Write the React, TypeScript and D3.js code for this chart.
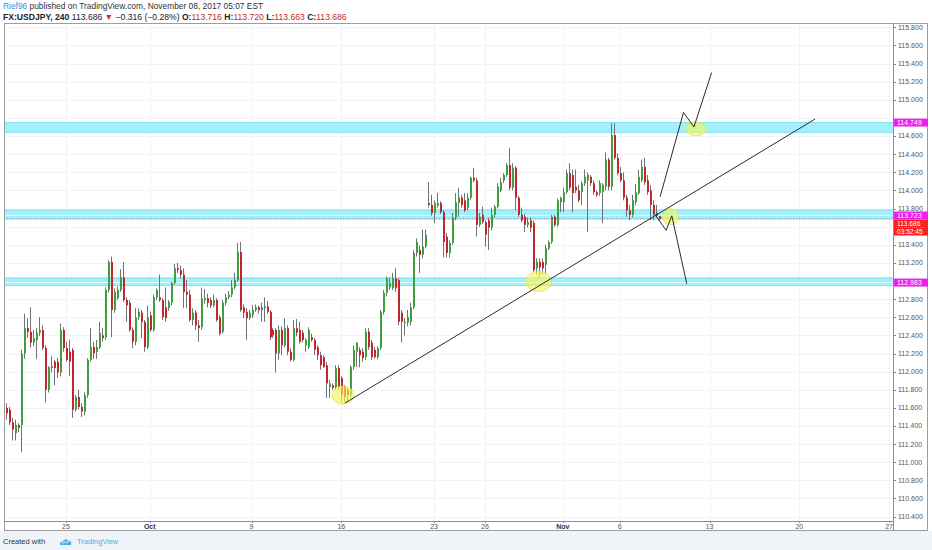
import * as d3 from 'd3';

// 4H USDJPY candles: [open, high, low, close]
const ohlc: [number, number, number, number][] = [
  [111.60, 111.65, 111.47, 111.54], [111.58, 111.61, 111.41, 111.44], [111.44, 111.49, 111.24, 111.36],
  [111.32, 111.47, 111.24, 111.41], [111.41, 111.43, 111.33, 111.38], [111.41, 112.24, 111.11, 112.20],
  [112.20, 112.64, 112.14, 112.48], [112.48, 112.59, 112.37, 112.44], [112.44, 112.71, 112.27, 112.32],
  [112.32, 112.46, 112.28, 112.37], [112.35, 112.48, 112.14, 112.43], [112.43, 112.60, 112.39, 112.46],
  [112.46, 112.51, 112.24, 112.26], [112.26, 112.29, 111.66, 111.80], [111.80, 112.06, 111.77, 112.05],
  [112.04, 112.17, 111.99, 112.06], [112.11, 112.13, 111.85, 112.04], [112.11, 112.15, 111.93, 111.99],
  [111.99, 112.53, 111.95, 112.46], [112.46, 112.49, 112.22, 112.26], [112.26, 112.33, 112.11, 112.13],
  [112.22, 112.35, 111.95, 112.11], [112.24, 112.26, 111.49, 111.58], [111.58, 111.74, 111.56, 111.72],
  [111.72, 111.80, 111.58, 111.61], [111.61, 111.65, 111.50, 111.56], [111.56, 111.77, 111.52, 111.74],
  [111.74, 112.15, 111.71, 112.13], [112.13, 112.48, 112.11, 112.27], [112.27, 112.33, 112.14, 112.20],
  [112.22, 112.35, 112.14, 112.27], [112.27, 112.55, 112.25, 112.43], [112.40, 112.48, 112.33, 112.37],
  [112.38, 112.93, 112.35, 112.90], [112.90, 113.23, 112.87, 113.21], [113.21, 113.27, 112.38, 112.68],
  [112.68, 112.92, 112.65, 112.88], [112.81, 112.94, 112.79, 112.90], [112.90, 113.13, 112.88, 113.04],
  [113.04, 113.21, 112.77, 112.79], [112.79, 112.82, 112.55, 112.73], [112.76, 112.79, 112.44, 112.46],
  [112.46, 112.49, 112.26, 112.33], [112.33, 112.70, 112.29, 112.60], [112.60, 112.70, 112.57, 112.66],
  [112.65, 112.68, 112.37, 112.55], [112.55, 112.57, 112.22, 112.27], [112.27, 112.73, 112.25, 112.60],
  [112.62, 112.66, 112.44, 112.46], [112.46, 112.85, 112.44, 112.82], [112.82, 112.92, 112.79, 112.90],
  [112.82, 113.07, 112.77, 112.79], [112.79, 112.81, 112.57, 112.60], [112.71, 112.93, 112.55, 112.59],
  [112.70, 112.79, 112.67, 112.77], [112.76, 112.99, 112.73, 112.98], [112.98, 113.19, 112.96, 113.14],
  [113.14, 113.20, 113.09, 113.12], [113.12, 113.17, 113.03, 113.07], [113.07, 113.14, 112.70, 112.88],
  [112.88, 113.01, 112.70, 112.85], [112.85, 112.90, 112.55, 112.57], [112.57, 112.70, 112.51, 112.65],
  [112.65, 112.68, 112.46, 112.51], [112.51, 112.57, 112.33, 112.48], [112.49, 112.93, 112.46, 112.81],
  [112.79, 112.91, 112.75, 112.81], [112.81, 112.86, 112.71, 112.76], [112.79, 112.82, 112.70, 112.73],
  [112.73, 112.85, 112.71, 112.79], [112.79, 112.81, 112.55, 112.57], [112.60, 112.62, 112.40, 112.42],
  [112.44, 112.79, 112.42, 112.76], [112.76, 112.86, 112.73, 112.82], [112.82, 112.89, 112.80, 112.85],
  [112.85, 113.01, 112.82, 112.93], [112.93, 113.09, 112.91, 113.01], [113.01, 113.42, 112.99, 113.32],
  [113.32, 113.43, 112.66, 112.68], [112.71, 112.74, 112.59, 112.65], [112.66, 112.70, 112.35, 112.59],
  [112.59, 112.68, 112.57, 112.65], [112.62, 112.73, 112.59, 112.68], [112.68, 112.74, 112.66, 112.71],
  [112.71, 112.73, 112.64, 112.68], [112.68, 112.76, 112.55, 112.71], [112.70, 112.82, 112.55, 112.72],
  [112.72, 112.78, 112.64, 112.66], [112.66, 112.68, 112.35, 112.38], [112.46, 112.48, 112.37, 112.40],
  [112.46, 112.48, 111.99, 112.20], [112.20, 112.51, 112.13, 112.46], [112.46, 112.50, 112.18, 112.29],
  [112.29, 112.59, 112.27, 112.48], [112.48, 112.51, 112.18, 112.22], [112.22, 112.26, 112.11, 112.13],
  [112.13, 112.57, 112.11, 112.48], [112.48, 112.58, 112.39, 112.43], [112.46, 112.55, 112.31, 112.33],
  [112.43, 112.46, 112.32, 112.35], [112.29, 112.37, 112.22, 112.35], [112.27, 112.49, 112.25, 112.46],
  [112.38, 112.42, 112.33, 112.35], [112.35, 112.37, 112.18, 112.24], [112.27, 112.29, 112.13, 112.18],
  [112.18, 112.22, 112.02, 112.07], [112.16, 112.18, 112.04, 112.05], [112.07, 112.11, 111.71, 111.87],
  [111.83, 111.91, 111.71, 111.87], [111.85, 111.87, 111.80, 111.82], [111.83, 112.07, 111.80, 112.04],
  [112.04, 112.07, 111.80, 111.83], [111.93, 111.95, 111.66, 111.74], [111.83, 111.85, 111.66, 111.72],
  [111.80, 111.82, 111.66, 111.74], [111.74, 112.07, 111.71, 112.05], [112.05, 112.29, 112.02, 112.24],
  [112.22, 112.32, 112.05, 112.32], [112.24, 112.27, 112.05, 112.18], [112.22, 112.26, 112.11, 112.15],
  [112.16, 112.48, 112.13, 112.44], [112.44, 112.48, 112.24, 112.27], [112.32, 112.35, 112.13, 112.16],
  [112.24, 112.27, 112.14, 112.16], [112.16, 112.28, 112.14, 112.26], [112.26, 112.68, 112.24, 112.66],
  [112.66, 112.90, 112.63, 112.87], [112.87, 113.05, 112.83, 113.03], [112.93, 113.04, 112.90, 112.98],
  [112.92, 113.09, 112.90, 113.03], [113.03, 113.14, 112.88, 112.92], [113.01, 113.03, 112.51, 112.55],
  [112.65, 112.68, 112.32, 112.55], [112.55, 112.59, 112.40, 112.54], [112.54, 112.68, 112.50, 112.60],
  [112.55, 112.76, 112.51, 112.71], [112.71, 113.34, 112.69, 113.31], [113.31, 113.47, 113.27, 113.43],
  [113.34, 113.39, 113.09, 113.29], [113.29, 113.57, 113.25, 113.38], [113.38, 113.57, 113.36, 113.51],
  [113.86, 114.09, 113.81, 113.84], [113.84, 113.95, 113.72, 113.75], [113.75, 113.89, 113.64, 113.86],
  [113.83, 113.97, 113.81, 113.86], [113.86, 113.88, 113.74, 113.76], [113.76, 113.78, 113.26, 113.43],
  [113.49, 113.53, 113.26, 113.31], [113.31, 113.45, 113.26, 113.42], [113.42, 113.75, 113.40, 113.70],
  [113.70, 113.97, 113.67, 113.87], [113.86, 114.03, 113.71, 113.92], [113.92, 113.95, 113.81, 113.84],
  [113.89, 113.97, 113.76, 113.78], [113.81, 113.97, 113.78, 113.92], [113.92, 114.15, 113.89, 114.14],
  [114.14, 114.25, 114.09, 114.11], [114.11, 114.14, 113.49, 113.62], [113.62, 113.75, 113.60, 113.71],
  [113.73, 113.82, 113.63, 113.65], [113.65, 113.67, 113.38, 113.51], [113.67, 113.70, 113.34, 113.59],
  [113.59, 113.81, 113.56, 113.73], [113.73, 113.84, 113.70, 113.82], [113.82, 114.08, 113.80, 114.04],
  [114.00, 114.14, 113.98, 114.09], [114.11, 114.19, 114.08, 114.17], [114.17, 114.30, 114.15, 114.28],
  [114.28, 114.47, 114.00, 114.03], [114.03, 114.30, 114.00, 114.25], [114.25, 114.27, 113.78, 113.92],
  [113.92, 113.94, 113.71, 113.73], [113.73, 113.81, 113.65, 113.67], [113.71, 113.74, 113.54, 113.62],
  [113.62, 113.70, 113.59, 113.65], [113.67, 113.70, 113.54, 113.59], [113.64, 113.67, 113.10, 113.12],
  [113.14, 113.25, 113.07, 113.21], [113.21, 113.25, 113.04, 113.15], [113.21, 113.25, 113.07, 113.14],
  [113.18, 113.40, 113.07, 113.36], [113.36, 113.45, 113.34, 113.43], [113.43, 113.73, 113.41, 113.71],
  [113.71, 113.73, 113.60, 113.62], [113.62, 113.91, 113.60, 113.89], [113.87, 113.93, 113.76, 113.92],
  [113.87, 114.03, 113.76, 113.98], [113.98, 114.23, 113.96, 114.19], [114.19, 114.30, 114.00, 114.03],
  [114.17, 114.23, 113.76, 113.97], [114.04, 114.23, 113.97, 114.00], [114.00, 114.06, 113.87, 113.89],
  [113.98, 114.10, 113.84, 114.08], [114.08, 114.23, 114.05, 114.15], [114.11, 114.20, 113.54, 114.17],
  [114.15, 114.17, 114.05, 114.08], [114.08, 114.11, 113.95, 113.98], [113.98, 114.00, 113.93, 113.95],
  [113.97, 114.11, 113.94, 114.08], [113.98, 114.08, 113.64, 114.06], [114.04, 114.42, 114.00, 114.34],
  [114.34, 114.36, 114.00, 114.04], [114.04, 114.74, 114.00, 114.61], [114.61, 114.74, 114.34, 114.36],
  [114.36, 114.41, 114.17, 114.19], [114.19, 114.26, 114.09, 114.11], [114.11, 114.20, 113.89, 113.92],
  [113.92, 113.95, 113.71, 113.78], [113.78, 113.84, 113.67, 113.73], [113.73, 113.95, 113.70, 113.89],
  [113.87, 114.07, 113.84, 113.98], [113.97, 114.23, 113.95, 114.15], [114.11, 114.34, 114.09, 114.26],
  [114.26, 114.36, 114.06, 114.09], [114.11, 114.17, 113.95, 113.98], [114.00, 114.06, 113.67, 113.84],
  [113.84, 113.89, 113.67, 113.75], [113.75, 113.84, 113.70, 113.72], [113.716, 113.72, 113.663, 113.686],
];

const timeTickBars = [20, 48, 82, 112, 143, 160, 186, 205, 235, 265, 295];
const timeTickLabels = ['25', 'Oct', '9', '16', '23', '26', 'Nov', '6', '13', '20', '27'];
const boldTimeLabels = ['Oct', 'Nov'];

// cyan zones [top, bottom] and their level lines
const zoneBands: [number, number][] = [[114.749, 114.64], [113.785, 113.685], [113.035, 112.95]];
const levelPrices = [114.749, 113.723, 112.983];
const lastPrice = 113.686;
const countdown = '03:52:45';

// drawings, as [bar index, price]
const trendLine: [number, number][] = [[113.2, 111.653], [270.3, 114.788]];
const upPath: [number, number][] = [[218.5, 113.93], [226.3, 114.86], [229.8, 114.70], [235.7, 115.30]];
const downPath: [number, number][] = [[216.2, 113.76], [220.5, 113.56], [222.4, 113.72], [227.4, 112.97]];
const highlights: [number, number][] = [[112.6, 111.74], [177.9, 112.995], [222.0, 113.71], [230.5, 114.68]];
const highlightRadii = [[11, 9], [13, 10], [8, 8], [10, 7]];

const FONT = 'Liberation Sans, Arial, sans-serif';
const LEFT = 4;
const AXIS_X = 893;
const RIGHT = 928;
const TOP = 23;
const AXIS_Y = 521;
const BOTTOM = 531;

export default function App() {
  const x = d3.scaleLinear().domain([-0.7, 296.3]).range([LEFT, AXIS_X]);
  const y = d3.scaleLinear().domain([110.4, 115.8]).range([516.6, 27.3]);
  const line = d3.line<[number, number]>().x(d => x(d[0])).y(d => y(d[1]));

  const boxH = 8;
  const midLevel = y(levelPrices[1]);
  const redTop = Math.max(y(lastPrice) - boxH / 2, midLevel + boxH / 2);

  // boxes on the price axis hide the tick labels under them
  const boxSpans = [
    ...levelPrices.map(p => [y(p) - boxH / 2, y(p) + boxH / 2]),
    [redTop, redTop + boxH * 2],
  ];
  const priceTicks = d3.ticks(110.4, 115.8, 27)
    .filter(p => !boxSpans.some(([a, b]) => y(p) > a - 2 && y(p) < b + 2));

  return (
    <svg width={932} height={550} style={{ position: 'absolute', left: 0, top: 0, fontFamily: FONT }}>
      <rect width={932} height={550} fill="#ffffff" />
      <rect x={0} y={BOTTOM} width={932} height={550 - BOTTOM} fill="#f0f3f7" />

      {/* header */}
      <text x={3} y={9} fontSize={8.4} fill="#333">
        <tspan fill="#3d8fd6">Rief96</tspan> published on TradingView.com, November 08, 2017 05:07 EST
      </text>
      <text x={3} y={19.5} fontSize={8.6} fill="#222">
        <tspan fontWeight="bold">FX:USDJPY, 240</tspan>
        <tspan> 113.686 </tspan>
        <tspan fill="#d32f2f">▼</tspan>
        <tspan> −0.316 (−0.28%) </tspan>
        <tspan fontWeight="bold">O:</tspan><tspan fill="#c62828">113.716</tspan>
        <tspan fontWeight="bold"> H:</tspan><tspan fill="#c62828">113.720</tspan>
        <tspan fontWeight="bold"> L:</tspan><tspan fill="#c62828">113.663</tspan>
        <tspan fontWeight="bold"> C:</tspan><tspan fill="#c62828">113.686</tspan>
      </text>

      {/* grid */}
      <g stroke="#f2f3f6" strokeWidth={1}>
        {timeTickBars.map(b => (
          <line key={b} x1={Math.round(x(b)) + 0.5} x2={Math.round(x(b)) + 0.5} y1={TOP} y2={AXIS_Y} />
        ))}
        {d3.ticks(110.4, 115.8, 27).map(p => (
          <line key={p} x1={LEFT} x2={AXIS_X} y1={Math.round(y(p)) + 0.5} y2={Math.round(y(p)) + 0.5} />
        ))}
      </g>

      {/* zones */}
      {zoneBands.map(([a, b], i) => (
        <g key={i}>
          <rect x={LEFT} y={y(a)} width={AXIS_X - LEFT} height={y(b) - y(a)} fill="#a3f0fa" />
          <line x1={LEFT} x2={AXIS_X} y1={y(a)} y2={y(a)} stroke="#6fdcee" strokeWidth={0.8} />
          <line x1={LEFT} x2={AXIS_X} y1={y(b)} y2={y(b)} stroke="#6fdcee" strokeWidth={0.8} />
        </g>
      ))}
      {levelPrices.slice(1).map(p => (
        <line key={p} x1={LEFT} x2={AXIS_X} y1={y(p)} y2={y(p)} stroke="#e2fcff" strokeWidth={1} />
      ))}

      {/* last price line */}
      <line x1={LEFT} x2={AXIS_X} y1={y(lastPrice)} y2={y(lastPrice)} stroke="#ff3b3b" strokeWidth={0.8}
        strokeDasharray="1,2" opacity={0.7} />

      {/* candles */}
      <g>
        {ohlc.map(([o, h, l, c], i) => {
          const px = Math.round(x(i));
          const up = c >= o;
          const top = y(Math.max(o, c));
          const bot = y(Math.min(o, c));
          return (
            <g key={i}>
              <line x1={px + 0.5} x2={px + 0.5} y1={y(h)} y2={y(l)} stroke="#707278" strokeWidth={1} />
              <rect x={px} y={top} width={2} height={Math.max(1, bot - top)} fill={up ? '#3f9f3c' : '#c1272d'} />
            </g>
          );
        })}
      </g>

      {/* highlights */}
      {highlights.map(([b, p], i) => (
        <ellipse key={i} cx={x(b)} cy={y(p)} rx={highlightRadii[i][0]} ry={highlightRadii[i][1]}
          fill="#f4f45a" fillOpacity={0.65} stroke="#e3e35a" strokeWidth={0.8} />
      ))}

      {/* drawings */}
      <g fill="none" stroke="#2b2b2b" strokeWidth={1}>
        <path d={line(trendLine) ?? ''} />
        <path d={line(upPath) ?? ''} />
        <path d={line(downPath) ?? ''} />
      </g>

      {/* frame */}
      <rect x={LEFT + 0.5} y={TOP + 0.5} width={RIGHT - LEFT - 1} height={BOTTOM - TOP - 1} fill="none" stroke="#9a9da3" />
      <line x1={AXIS_X + 0.5} x2={AXIS_X + 0.5} y1={TOP} y2={BOTTOM} stroke="#8a8d93" />
      <line x1={LEFT} x2={AXIS_X} y1={AXIS_Y + 0.5} y2={AXIS_Y + 0.5} stroke="#8a8d93" />

      {/* price axis */}
      <g fontSize={7} fill="#555">
        {priceTicks.map(p => (
          <g key={p}>
            <line x1={AXIS_X} x2={AXIS_X + 3} y1={Math.round(y(p)) + 0.5} y2={Math.round(y(p)) + 0.5} stroke="#8a8d93" />
            <text x={898} y={y(p)} dy="0.35em">{p.toFixed(3)}</text>
          </g>
        ))}
      </g>
      {levelPrices.map(p => (
        <g key={p}>
          <rect x={AXIS_X + 1} y={y(p) - boxH / 2} width={RIGHT - AXIS_X - 1} height={boxH} fill="#ee1fec" />
          <text x={897} y={y(p)} dy="0.35em" fontSize={7} fill="#fff">{p.toFixed(3)}</text>
        </g>
      ))}
      <rect x={AXIS_X + 1} y={redTop} width={RIGHT - AXIS_X - 1} height={boxH * 2} fill="#ff1f1f" />
      <line x1={AXIS_X + 3} x2={RIGHT - 3} y1={redTop + boxH} y2={redTop + boxH} stroke="#ffb3b3"
        strokeWidth={0.6} strokeDasharray="1,1" />
      <text x={897} y={redTop + boxH / 2} dy="0.35em" fontSize={6.6} fill="#fff">{lastPrice.toFixed(3)}</text>
      <text x={897} y={redTop + boxH * 1.5 + 0.5} dy="0.35em" fontSize={6.6} fill="#fff">{countdown}</text>

      {/* time axis */}
      <g fontSize={7} fill="#555" textAnchor="middle">
        {timeTickBars.map((b, i) => (
          <g key={b}>
            <line x1={Math.round(x(b)) + 0.5} x2={Math.round(x(b)) + 0.5} y1={AXIS_Y} y2={AXIS_Y + 2} stroke="#8a8d93" />
            <text x={x(b)} y={528.5}
              fontWeight={boldTimeLabels.includes(timeTickLabels[i]) ? 'bold' : 'normal'}
              fill={boldTimeLabels.includes(timeTickLabels[i]) ? '#333' : '#555'}>
              {timeTickLabels[i]}
            </text>
          </g>
        ))}
      </g>

      {/* footer */}
      <text x={3} y={544} fontSize={7.5} fill="#333">Created with</text>
      <g transform="translate(59,537)">
        <path d="M1,8 C0,5 3,4 4,5 C4,2 8,1 9,4 C11,3 13,5 12,8 Z" fill="#45b1e4" />
        <path d="M3,7 L6,4.5 L8,6 L10,4" fill="none" stroke="#fff" strokeWidth={0.8} />
      </g>
      <text x={77} y={544} fontSize={7.5} fill="#45b1e4">TradingView</text>
    </svg>
  );
}
